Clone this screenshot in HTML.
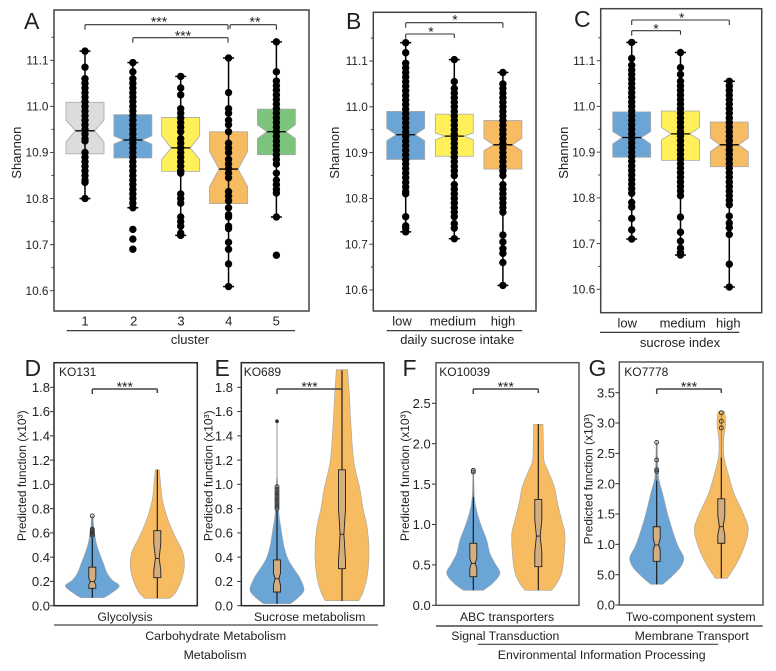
<!DOCTYPE html>
<html lang="en">
<head>
<meta charset="utf-8">
<title>Shannon diversity and predicted function panels</title>
<style>
html,body{margin:0;padding:0;background:#fff;}
svg{display:block;}
text{font-family:"Liberation Sans",sans-serif;fill:#222;}
</style>
</head>
<body>
<svg id="chart" xmlns="http://www.w3.org/2000/svg" width="776" height="671" viewBox="0 0 776 671">
  <rect x="0" y="0" width="776" height="671" fill="#fff"/>

  <text x="24" y="29" font-size="23">A</text>
  <text x="346" y="29" font-size="23">B</text>
  <text x="574" y="27" font-size="23">C</text>
  <text x="24.5" y="376" font-size="23">D</text>
  <text x="214.5" y="376" font-size="23">E</text>
  <text x="402.5" y="376" font-size="23">F</text>
  <text x="588.5" y="376" font-size="23">G</text>

  <text transform="translate(21,152.7) rotate(-90)" text-anchor="middle" font-size="13">Shannon</text>
  <text transform="translate(339,152.7) rotate(-90)" text-anchor="middle" font-size="13">Shannon</text>
  <text transform="translate(568,152.7) rotate(-90)" text-anchor="middle" font-size="13">Shannon</text>
  <text transform="translate(26,475.8) rotate(-90)" text-anchor="middle" font-size="12">Predicted function (x10³)</text>
  <text transform="translate(212.5,475.8) rotate(-90)" text-anchor="middle" font-size="12">Predicted function (x10³)</text>
  <text transform="translate(409,475.8) rotate(-90)" text-anchor="middle" font-size="12">Predicted function (x10³)</text>
  <text transform="translate(592.5,479) rotate(-90)" text-anchor="middle" font-size="12">Predicted function (x10³)</text>

  <text x="59" y="376" font-size="12">KO131</text>
  <text x="243.7" y="376" font-size="12">KO689</text>
  <text x="439.3" y="376" font-size="12">KO10039</text>
  <text x="624.3" y="376" font-size="12">KO7778</text>

  <line x1="66.7" x2="295" y1="330.7" y2="330.7" stroke="#222" stroke-width="1.1"/>
  <text x="190" y="344" text-anchor="middle" font-size="13">cluster</text>
  <line x1="386.7" x2="522.3" y1="330.7" y2="330.7" stroke="#222" stroke-width="1.1"/>
  <text x="457.3" y="344" text-anchor="middle" font-size="13">daily sucrose intake</text>
  <line x1="600" x2="739.3" y1="332.3" y2="332.3" stroke="#222" stroke-width="1.1"/>
  <text x="680" y="347" text-anchor="middle" font-size="13">sucrose index</text>

  <text x="125" y="621" text-anchor="middle" font-size="12.3">Glycolysis</text>
  <text x="309.7" y="621" text-anchor="middle" font-size="12.3">Sucrose metabolism</text>
  <text x="507" y="621" text-anchor="middle" font-size="12.3">ABC transporters</text>
  <text x="690.7" y="621" text-anchor="middle" font-size="12.3">Two-component system</text>
  <line x1="54" x2="378" y1="625" y2="625" stroke="#444" stroke-width="1.2"/>
  <text x="215.7" y="640" text-anchor="middle" font-size="12.3">Carbohydrate Metabolism</text>
  <text x="215" y="659" text-anchor="middle" font-size="12.3">Metabolism</text>
  <line x1="436" x2="762.7" y1="626" y2="626" stroke="#222" stroke-width="1.2"/>
  <text x="505.3" y="640" text-anchor="middle" font-size="12.3">Signal Transduction</text>
  <text x="691.7" y="640" text-anchor="middle" font-size="12.3">Membrane Transport</text>
  <line x1="477.7" x2="718.3" y1="644.3" y2="644.3" stroke="#444" stroke-width="1.2"/>
  <text x="601.7" y="659" text-anchor="middle" font-size="12.3">Environmental Information Processing</text>
</svg>

<script>
/* ---------- Box-plot panels: data ---------- */
const clusterCategories = ['1','2','3','4','5'];
const clusterQ1 = [10.897,10.888,10.859,10.789,10.895];
const clusterNotchLow = [10.923,10.918,10.885,10.826,10.93];
const clusterMedian = [10.947,10.927,10.91,10.864,10.945];
const clusterNotchHigh = [10.97,10.936,10.936,10.902,10.96];
const clusterQ3 = [11.009,10.982,10.976,10.945,10.994];
const clusterWhiskerLow = [10.8,10.78,10.72,10.609,10.76];
const clusterWhiskerHigh = [11.12,11.095,11.065,11.105,11.14];
const clusterPoints1 = [11.12,11.085,11.06,11.05,11.04,11.03,11.02,11.01,11.0,10.99,10.98,10.97,10.96,10.95,10.94,10.93,10.925,10.9,10.89,10.88,10.87,10.86,10.85,10.84,10.835,10.8];
const clusterPoints2 = [11.095,11.075,11.06,11.05,11.04,11.03,11.02,11.01,11.0,10.99,10.98,10.97,10.96,10.95,10.94,10.93,10.92,10.91,10.9,10.89,10.88,10.87,10.86,10.85,10.84,10.83,10.82,10.81,10.8,10.79,10.78,10.733,10.712,10.69];
const clusterPoints3 = [11.065,11.04,11.025,10.995,10.985,10.975,10.965,10.955,10.945,10.93,10.92,10.91,10.9,10.89,10.88,10.87,10.86,10.855,10.81,10.8,10.79,10.76,10.75,10.74,10.725,10.72];
const clusterPoints4 = [11.105,11.03,10.995,10.985,10.97,10.96,10.945,10.92,10.91,10.9,10.885,10.875,10.865,10.855,10.845,10.815,10.805,10.795,10.78,10.765,10.76,10.74,10.735,10.705,10.69,10.658,10.609];
const clusterPoints5 = [11.14,11.075,11.055,11.045,11.035,11.025,11.015,11.005,10.995,10.985,10.975,10.965,10.955,10.945,10.935,10.925,10.915,10.905,10.895,10.885,10.875,10.855,10.84,10.83,10.82,10.812,10.76,10.677];

const intakeCategories = ['low','medium','high'];
const intakeQ1 = [10.885,10.892,10.864];
const intakeNotchLow = [10.926,10.928,10.904];
const intakeMedian = [10.939,10.936,10.917];
const intakeNotchHigh = [10.953,10.943,10.931];
const intakeQ3 = [10.99,10.984,10.97];
const intakeWhiskerLow = [10.727,10.712,10.61];
const intakeWhiskerHigh = [11.14,11.103,11.075];
const intakePointsLow = [11.14,11.118,11.095,11.085,11.075,11.065,11.055,11.045,11.035,11.025,11.015,11.005,10.995,10.985,10.975,10.965,10.955,10.945,10.935,10.925,10.915,10.905,10.895,10.885,10.875,10.865,10.855,10.845,10.835,10.825,10.815,10.81,10.76,10.74,10.735,10.727];
const intakePointsMedium = [11.103,11.055,11.04,11.03,11.02,11.01,11.0,10.99,10.98,10.97,10.96,10.95,10.94,10.93,10.92,10.91,10.9,10.89,10.88,10.87,10.86,10.85,10.83,10.82,10.81,10.8,10.79,10.78,10.77,10.76,10.745,10.735,10.712];
const intakePointsHigh = [11.075,11.05,11.04,11.03,11.02,11.01,11.0,10.99,10.98,10.97,10.96,10.95,10.94,10.93,10.92,10.91,10.9,10.89,10.88,10.87,10.86,10.85,10.83,10.82,10.81,10.8,10.79,10.78,10.77,10.72,10.705,10.69,10.68,10.66,10.61];

const indexCategories = ['low','medium','high'];
const indexQ1 = [10.889,10.882,10.868];
const indexNotchLow = [10.918,10.927,10.901];
const indexMedian = [10.932,10.94,10.916];
const indexNotchHigh = [10.945,10.954,10.931];
const indexQ3 = [10.988,10.99,10.966];
const indexWhiskerLow = [10.71,10.675,10.605];
const indexWhiskerHigh = [11.14,11.118,11.055];
const indexPointsLow = [11.14,11.105,11.09,11.08,11.07,11.06,11.05,11.04,11.03,11.02,11.01,11.0,10.99,10.98,10.97,10.96,10.95,10.94,10.93,10.92,10.91,10.9,10.89,10.88,10.87,10.86,10.85,10.84,10.83,10.82,10.81,10.79,10.78,10.755,10.73,10.71];
const indexPointsMedium = [11.118,11.085,11.07,11.055,11.045,11.035,11.025,11.015,11.005,10.995,10.985,10.975,10.965,10.955,10.945,10.935,10.925,10.915,10.905,10.895,10.885,10.875,10.865,10.855,10.845,10.835,10.825,10.815,10.805,10.758,10.725,10.705,10.69,10.68,10.675];
const indexPointsHigh = [11.055,11.045,11.035,11.025,11.015,11.005,10.995,10.985,10.975,10.965,10.955,10.945,10.935,10.925,10.915,10.905,10.895,10.885,10.875,10.865,10.855,10.845,10.835,10.825,10.815,10.805,10.795,10.785,10.76,10.745,10.735,10.72,10.655,10.605];

const shannonTickValues = [10.6,10.7,10.8,10.9,11.0,11.1];
const shannonTickLabels = ['10.6','10.7','10.8','10.9','11.0','11.1'];
const shannonMinorTicks = [10.65,10.75,10.85,10.95,11.05,11.15];

/* ---------- Violin panels: data (density is relative, 0-1) ---------- */
const functionTicksDE = [0,0.2,0.4,0.6,0.8,1.0,1.2,1.4,1.6,1.8];
const functionLabelsDE = ['0.0','0.2','0.4','0.6','0.8','1.0','1.2','1.4','1.6','1.8'];
const functionTicksF = [0,0.5,1.0,1.5,2.0,2.5];
const functionLabelsF = ['0.0','0.5','1.0','1.5','2.0','2.5'];
const functionTicksG = [0,0.5,1.0,1.5,2.0,2.5,3.0,3.5];
const functionLabelsG = ['0.0','5.0','1.0','1.5','2.0','2.5','3.0','3.5'];

const dBlueLevels = [0.066,0.10,0.162,0.21,0.267,0.35,0.43,0.515,0.6,0.65,0.70,0.74];
const dBlueDensity = [0.43,0.68,1,0.74,0.55,0.41,0.27,0.15,0.085,0.05,0.035,0.02];
const dOrangeLevels = [0.061,0.10,0.185,0.28,0.377,0.46,0.57,0.706,0.87,1.0,1.12];
const dOrangeDensity = [0.46,0.65,0.85,0.975,1,0.91,0.66,0.4,0.19,0.125,0.075];
const dBlueBox = [0.143,0.172,0.198,0.225,0.317];
const dOrangeBox = [0.231,0.29,0.39,0.515,0.618];
const dBlueWhisker = [0.065,0.56];
const dOrangeWhisker = [0.061,1.12];
const dBlueFliers = [0.58,0.59,0.6,0.61,0.62,0.63,0.74];
const dOrangeFliers = [];

const eBlueLevels = [0.016,0.058,0.127,0.222,0.305,0.387,0.498,0.635,0.745,0.91,1.047];
const eBlueDensity = [0.49,0.74,1,0.86,0.62,0.4,0.25,0.15,0.075,0.04,0.012];
const eOrangeLevels = [0.041,0.113,0.25,0.443,0.635,0.8,0.965,1.185,1.46,1.73,1.945];
const eOrangeDensity = [0.62,0.78,0.94,1,0.94,0.78,0.66,0.44,0.34,0.275,0.21];
const eBlueBox = [0.113,0.17,0.222,0.27,0.377];
const eOrangeBox = [0.305,0.37,0.589,0.8,1.12];
const eBlueWhisker = [0.016,0.78];
const eOrangeWhisker = [0.04,1.94];
const eBlueFliers = [0.8,0.82,0.84,0.86,0.88,0.9,0.92,0.94,0.96,0.98,1.52];
const eOrangeFliers = [];

const fBlueLevels = [0.186,0.272,0.396,0.52,0.644,0.808,0.973,1.138,1.303,1.468,1.674];
const fBlueDensity = [0.375,0.72,1,0.81,0.62,0.5,0.31,0.15,0.05,0.025,0.012];
const fOrangeLevels = [0.186,0.272,0.437,0.849,1.056,1.262,1.468,1.674,1.8,2.05,2.24];
const fOrangeDensity = [0.5,0.69,0.9,1,0.875,0.72,0.6,0.35,0.21,0.19,0.175];
const fBlueBox = [0.354,0.455,0.52,0.58,0.767];
const fOrangeBox = [0.478,0.66,0.857,1.056,1.31];
const fBlueWhisker = [0.186,1.34];
const fOrangeWhisker = [0.186,2.24];
const fBlueFliers = [1.65,1.67];
const fOrangeFliers = [];

const gBlueLevels = [0.34,0.467,0.63,0.78,0.96,1.18,1.51,1.84,2.06,2.28,2.69];
const gBlueDensity = [0.22,0.55,0.89,1,0.8,0.62,0.4,0.22,0.085,0.04,0.02];
const gOrangeLevels = [0.44,0.63,0.91,1.24,1.51,1.84,2.17,2.45,2.72,3.0,3.19];
const gOrangeDensity = [0.22,0.5,0.81,1,0.81,0.47,0.25,0.1,0.09,0.16,0.12];
const gBlueBox = [0.72,0.91,0.99,1.1,1.29];
const gOrangeBox = [1.018,1.15,1.29,1.48,1.75];
const gBlueWhisker = [0.34,2.05];
const gOrangeWhisker = [0.44,2.43];
const gBlueFliers = [2.2,2.23,2.39,2.68];
const gOrangeFliers = [2.92,3.03,3.17];

/* ---------- Drawing helpers ---------- */
const svg = document.getElementById('chart');
const NS = 'http://www.w3.org/2000/svg';
const BLUE = '#6ba5d6', ORANGE = '#f7bb62', YELLOW = '#fff05a', GRAY = '#dcdcdc', GREEN = '#7cc47c';

function make(tag, attrs, parent) {
  const n = document.createElementNS(NS, tag);
  for (const k in attrs) n.setAttribute(k, attrs[k]);
  (parent || svg).appendChild(n);
  return n;
}
function linearY(v0, px0, v1, px1) {
  return function (v) { return px0 + (v - v0) * (px1 - px0) / (v1 - v0); };
}

function drawFrame(name, x1, x2, y1, y2, color) {
  const f = make('rect', {x:x1, y:y1, width:x2-x1, height:y2-y1, fill:'none', stroke:color, 'stroke-width':1.5});
  
  
}

function drawYAxis(prefix, frameX, yScale, values, labels, minor, labelRight, fontSize, color) {
  values.forEach(function (v, i) {
    const t = make('line', {x1:frameX-4, x2:frameX, y1:yScale(v), y2:yScale(v), stroke:color, 'stroke-width':1});
    
    
    const l = make('text', {x:labelRight, y:yScale(v)+fontSize*0.36, 'text-anchor':'end', 'font-size':fontSize});
    
    
    l.textContent = labels[i];
  });
  minor.forEach(function (v) {
    const t = make('line', {x1:frameX-2.5, x2:frameX, y1:yScale(v), y2:yScale(v), stroke:color, 'stroke-width':1});
    
    
  });
}

function drawBracket(prefix, xa, xb, y, dropA, dropB, label, labelX, labelY, size, color, weight) {
  const p = make('path', {d:'M'+xa+' '+(y+dropA)+'V'+(y+1)+'Q'+xa+' '+y+' '+(xa+1)+' '+y+'H'+(xb-1)+'Q'+xb+' '+y+' '+xb+' '+(y+1)+'V'+(y+dropB), fill:'none', stroke:color, 'stroke-width':weight});
  
  
  const t = make('text', {x:labelX, y:labelY, 'text-anchor':'middle', 'font-size':size});
  
  
  t.textContent = label;
}

function drawNotchBox(prefix, cx, yScale, q1, nl, med, nh, q3, halfW, indent, fill, stroke, strokeW) {
  const xl = cx-halfW, xr = cx+halfW, il = xl+indent, ir = xr-indent;
  const pts = [[xl,q3],[xr,q3],[xr,nh],[ir,med],[xr,nl],[xr,q1],[xl,q1],[xl,nl],[il,med],[xl,nh]];
  const b = make('polygon', {points:pts.map(function(p){return p[0]+','+yScale(p[1]);}).join(' '), fill:fill, stroke:stroke, 'stroke-width':strokeW});
  
  
  return [il, ir];
}

function drawShannonPanel(prefix, cfg, cats, q1, nl, med, nh, q3, wl, wh, series, colors) {
  const yScale = linearY(10.6, cfg.y106, 11.1, cfg.y111);
  const xScale = function (i) { return cfg.x0 + i*cfg.step; };
  drawFrame(prefix+'-plot-frame', cfg.left, cfg.right, cfg.top, cfg.bottom, '#444');
  drawYAxis(prefix, cfg.left, yScale, shannonTickValues, shannonTickLabels, shannonMinorTicks, cfg.left-5.5, 11.8, '#444');
  cats.forEach(function (c, i) {
    const cx = xScale(i);
    const span = drawNotchBox(prefix+'-'+c, cx, yScale, q1[i], nl[i], med[i], nh[i], q3[i], 19, 9.5, colors[i], '#a8a8a8', 0.8);
    const w = make('line', {x1:cx, x2:cx, y1:yScale(wl[i]), y2:yScale(wh[i]), stroke:'#000', 'stroke-width':1.5});
    
    
    [wl[i], wh[i]].forEach(function (v) {
      const cap = make('line', {x1:cx-5.5, x2:cx+5.5, y1:yScale(v), y2:yScale(v), stroke:'#000', 'stroke-width':1.5});
      
      
    });
    series[i].forEach(function (v) {
      const d = make('circle', {cx:cx, cy:yScale(v), r:3.7, fill:'#000'});
      
      
    });
    const m = make('line', {x1:span[0], x2:span[1], y1:yScale(med[i]), y2:yScale(med[i]), stroke:'#000', 'stroke-width':1.3});
    
    
    const lab = make('text', {x:cfg.labelX[i], y:cfg.labelY, 'text-anchor':'middle', 'font-size':13});
    
    
    lab.textContent = c;
  });
  return xScale;
}

function smoothSide(pts) {
  let d = '';
  for (let i = 0; i < pts.length-1; i++) {
    const p0 = pts[Math.max(i-1,0)], p1 = pts[i], p2 = pts[i+1], p3 = pts[Math.min(i+2,pts.length-1)];
    d += 'C'+(p1[0]+(p2[0]-p0[0])/6)+' '+(p1[1]+(p2[1]-p0[1])/6)+' '+(p2[0]-(p3[0]-p1[0])/6)+' '+(p2[1]-(p3[1]-p1[1])/6)+' '+p2[0]+' '+p2[1];
  }
  return d;
}

function drawViolin(prefix, cx, yScale, levels, density, maxHalf, box, whisker, fliers, fill) {
  const right = levels.map(function (v, i) { return [cx+density[i]*maxHalf, yScale(v)]; });
  const left = levels.map(function (v, i) { return [cx-density[i]*maxHalf, yScale(v)]; }).reverse();
  const d = 'M'+right[0][0]+' '+right[0][1]+smoothSide(right)+'L'+left[0][0]+' '+left[0][1]+smoothSide(left)+'Z';
  const v = make('path', {d:d, fill:fill, stroke:'#a5a5a5', 'stroke-width':0.6});
  
  
  const allTop = fliers.length ? Math.max.apply(null, fliers) : whisker[1];
  if (allTop > whisker[1]) {
    const thin = make('line', {x1:cx, x2:cx, y1:yScale(whisker[1]), y2:yScale(allTop), stroke:'#777', 'stroke-width':0.8});
    
    
  }
  const w = make('line', {x1:cx, x2:cx, y1:yScale(whisker[0]), y2:yScale(whisker[1]), stroke:'#111', 'stroke-width':1.1});
  
  
  const span = drawNotchBox(prefix, cx, yScale, box[0], box[1], box[2], box[3], box[4], 3.5, 1.6, '#d4ae7e', '#222', 0.9);
  const m = make('line', {x1:span[0], x2:span[1], y1:yScale(box[2]), y2:yScale(box[2]), stroke:'#111', 'stroke-width':0.8});
  
  
  fliers.forEach(function (f) {
    const c = make('circle', {cx:cx, cy:yScale(f), r:f > 1.5 && prefix === 'e-blue' ? 1.4 : 2, fill:f > 1.5 && prefix === 'e-blue' ? '#222' : 'none', stroke:'#333', 'stroke-width':0.9});
    
    
  });
}

function drawViolinPanel(prefix, cfg, ticks, labels, blue, orange) {
  const yScale = linearY(0, cfg.y0, cfg.topVal, cfg.yTop);
  drawViolin(prefix+'-blue', cfg.xBlue, yScale, blue[0], blue[1], cfg.half, blue[2], blue[3], blue[4], BLUE);
  drawViolin(prefix+'-orange', cfg.xOrange, yScale, orange[0], orange[1], cfg.half, orange[2], orange[3], orange[4], ORANGE);
  drawFrame(prefix+'-plot-frame', cfg.left, cfg.right, cfg.top, cfg.bottom, cfg.frame);
  drawYAxis(prefix, cfg.left, yScale, ticks, labels, [], cfg.labelRight, 13, '#333');
  drawBracket(prefix, cfg.xBlue, cfg.xOrange, 389, 5, 4, '***', (cfg.xBlue+cfg.xOrange)/2, 391.5, 14, '#444', 1.5);
}

/* ---------- Panels ---------- */
const xA = drawShannonPanel('a', {left:54, right:309, top:10, bottom:311, y106:290.7, y111:60.3, x0:85, step:47.85, labelX:[85,133.7,181,228.7,276.3], labelY:325.5},
  clusterCategories, clusterQ1, clusterNotchLow, clusterMedian, clusterNotchHigh, clusterQ3, clusterWhiskerLow, clusterWhiskerHigh,
  [clusterPoints1,clusterPoints2,clusterPoints3,clusterPoints4,clusterPoints5], [GRAY,BLUE,YELLOW,ORANGE,GREEN]);
drawBracket('a-1-4', xA(0), xA(3)-0.5, 24.7, 5, 5, '***', 159, 26.5, 14, '#333', 1.1);
drawBracket('a-2-4', xA(1), xA(3)-0.5, 37.7, 5, 5, '***', 183, 40.5, 14, '#333', 1.1);
drawBracket('a-4-5', xA(3)+1.5, xA(4), 24.7, 4, 5, '**', 255, 26.5, 14, '#333', 1.1);

const xB = drawShannonPanel('b', {left:373.3, right:536, top:12.3, bottom:311, y106:290, y111:61, x0:405.7, step:48.6, labelX:[402,453,503], labelY:325.5},
  intakeCategories, intakeQ1, intakeNotchLow, intakeMedian, intakeNotchHigh, intakeQ3, intakeWhiskerLow, intakeWhiskerHigh,
  [intakePointsLow,intakePointsMedium,intakePointsHigh], [BLUE,YELLOW,ORANGE]);
drawBracket('b-low-high', xB(0), xB(2), 22.7, 5, 5, '*', 455, 24.5, 14, '#333', 1.1);
drawBracket('b-low-medium', xB(0), xB(1), 34, 5, 4, '*', 431, 36.5, 14, '#333', 1.1);

const xC = drawShannonPanel('c', {left:600.7, right:761.7, top:8.7, bottom:312.7, y106:289.3, y111:60.7, x0:631.7, step:48.8, labelX:[627.3,682.7,728.3], labelY:327.7},
  indexCategories, indexQ1, indexNotchLow, indexMedian, indexNotchHigh, indexQ3, indexWhiskerLow, indexWhiskerHigh,
  [indexPointsLow,indexPointsMedium,indexPointsHigh], [BLUE,YELLOW,ORANGE]);
drawBracket('c-low-high', xC(0), xC(2), 20, 5, 5, '*', 681.7, 22.5, 14, '#333', 1.1);
drawBracket('c-low-medium', xC(0), xC(1), 30.7, 5, 4, '*', 656, 33.5, 14, '#333', 1.1);

drawViolinPanel('d', {left:54, right:197.3, top:362.7, bottom:605.7, y0:605.7, topVal:1.8, yTop:387.3, xBlue:92.3, xOrange:157.3, half:27, labelRight:50, frame:'#2a2a2a'},
  functionTicksDE, functionLabelsDE,
  [dBlueLevels,dBlueDensity,dBlueBox,dBlueWhisker,dBlueFliers],
  [dOrangeLevels,dOrangeDensity,dOrangeBox,dOrangeWhisker,dOrangeFliers]);
drawViolinPanel('e', {left:241.3, right:384, top:362.7, bottom:605.7, y0:605.7, topVal:1.8, yTop:387.3, xBlue:277, xOrange:342, half:27, labelRight:233, frame:'#2a2a2a'},
  functionTicksDE, functionLabelsDE,
  [eBlueLevels,eBlueDensity,eBlueBox,eBlueWhisker,eBlueFliers],
  [eOrangeLevels,eOrangeDensity,eOrangeBox,eOrangeWhisker,eOrangeFliers]);
drawViolinPanel('f', {left:436, right:579, top:362.7, bottom:605.3, y0:605.3, topVal:2.5, yTop:403.3, xBlue:473.3, xOrange:538.3, half:26.7, labelRight:430.7, frame:'#555'},
  functionTicksF, functionLabelsF,
  [fBlueLevels,fBlueDensity,fBlueBox,fBlueWhisker,fBlueFliers],
  [fOrangeLevels,fOrangeDensity,fOrangeBox,fOrangeWhisker,fOrangeFliers]);
drawViolinPanel('g', {left:619.3, right:763, top:362, bottom:605, y0:605, topVal:3.5, yTop:392.7, xBlue:656.7, xOrange:721.3, half:27, labelRight:615, frame:'#555'},
  functionTicksG, functionLabelsG,
  [gBlueLevels,gBlueDensity,gBlueBox,gBlueWhisker,gBlueFliers],
  [gOrangeLevels,gOrangeDensity,gOrangeBox,gOrangeWhisker,gOrangeFliers]);
</script>
</body>
</html>
